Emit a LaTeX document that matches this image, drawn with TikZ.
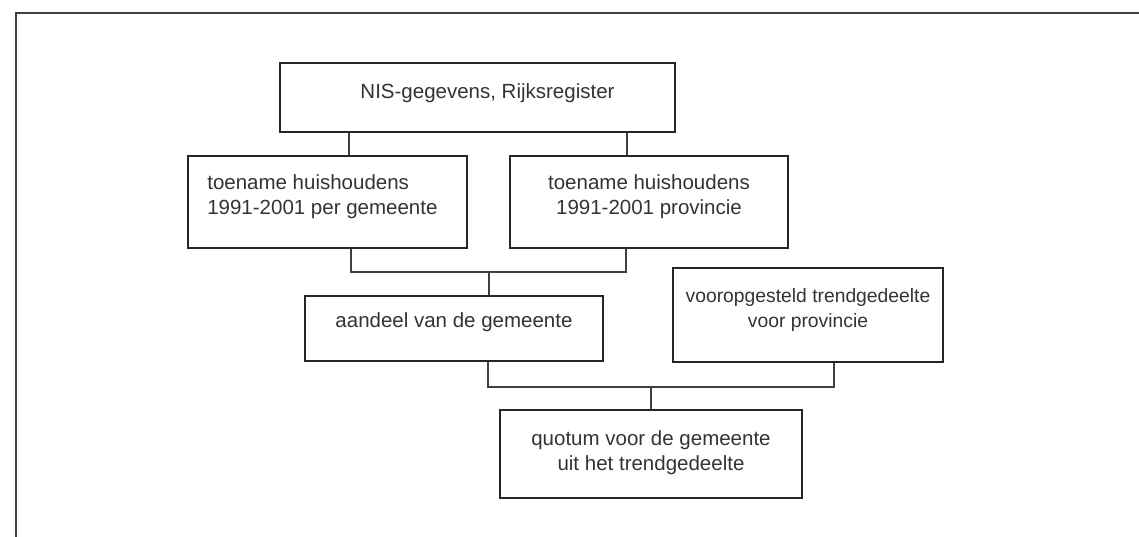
\documentclass[tikz,border=0pt]{standalone}
\usepackage{fontspec}
\setmainfont{Liberation Sans}
\begin{document}
\begin{tikzpicture}[x=1pt,y=-1pt,
  box/.style={draw=black!85,line width=1.8pt,rectangle,inner sep=0pt},
  lbl/.style={font=\fontsize{20.5}{25}\selectfont,text=black!80,align=center,inner sep=0pt},
  lbll/.style={lbl,align=left},
  lbln/.style={lbl,font=\fontsize{19.3}{24.5}\selectfont},
  link/.style={draw=black!75,line width=1.4pt},
  frame/.style={draw=black!75,line width=1.6pt}]
\useasboundingbox (0,0) rectangle (1139,536);
% page frame: only top and left edges fall inside the picture
\coordinate (fa) at (16,560);
\coordinate (fb) at (16,13);
\coordinate (fc) at (1160,13);
\draw[frame] (fa) -- (fb) -- (fc);

% boxes
\node[box,minimum width=395pt,minimum height=69pt] (nis) at (477.5,97.5) {};
\node[box,minimum width=279pt,minimum height=92pt] (t1) at (327.5,202) {};
\node[box,minimum width=278pt,minimum height=92pt] (t2) at (649,202) {};
\node[box,minimum width=298pt,minimum height=65pt] (a) at (454,328.5) {};
\node[box,minimum width=270pt,minimum height=94pt] (v) at (808,315) {};
\node[box,minimum width=302pt,minimum height=88pt] (q) at (651,454) {};

% labels
\node[lbl] (nis-t) at ([xshift=10pt,yshift=4.5pt]nis.center) {NIS-gegevens, Rijksregister};
\node[lbll,anchor=west] (t1-t) at ([xshift=20pt,yshift=5.5pt]t1.west) {toename huishoudens\\1991-2001 per gemeente};
\node[lbl] (t2-t) at ([yshift=5.5pt]t2.center) {toename huishoudens\\1991-2001 provincie};
\node[lbl] (a-t) at ([yshift=6.5pt]a.center) {aandeel van de gemeente};
\node[lbln] (v-t) at ([yshift=5pt]v.center) {vooropgesteld trendgedeelte\\voor provincie};
\node[lbl] (q-t) at ([yshift=1.5pt]q.center) {quotum voor de gemeente\\uit het trendgedeelte};

% connectors
\coordinate (j1) at (489,272);
\coordinate (j2) at (651,387);
\draw[link] ([xshift=70pt]nis.south west) -- ([xshift=162pt]t1.north west);
\draw[link] ([xshift=348pt]nis.south west) -- ([xshift=118pt]t2.north west);
\draw[link] ([xshift=164pt]t1.south west) |- (j1) -| ([xshift=117pt]t2.south west);
\draw[link] (j1) -- (j1 |- a.north);
\draw[link] ([xshift=184pt]a.south west) |- (j2) -| ([xshift=162pt]v.south west);
\draw[link] (j2) -- (j2 |- q.north);
\end{tikzpicture}
\end{document}
